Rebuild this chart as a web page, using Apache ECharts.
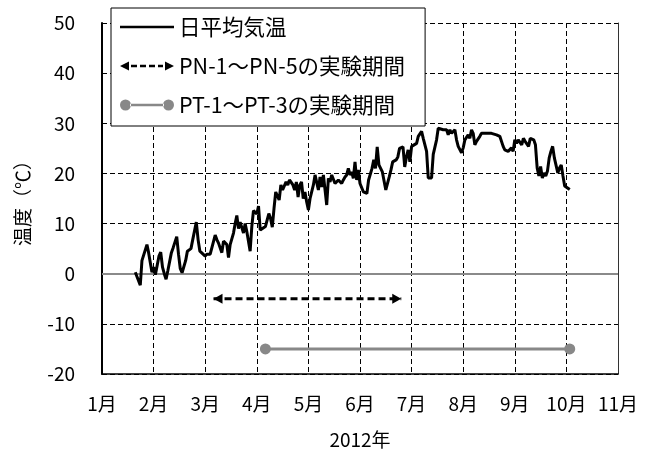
<!DOCTYPE html>
<html>
<head>
<meta charset="utf-8">
<script src="https://cdn.jsdelivr.net/npm/echarts@6/dist/echarts.min.js"></script>
<style>
html,body{margin:0;padding:0;background:#fff;}
#chart{width:652px;height:455px;}
</style>
</head>
<body>
<div id="chart"></div>
<script>
// ---- data ----
const year = 2012;
const monthLabels = ['1月','2月','3月','4月','5月','6月','7月','8月','9月','10月','11月'];
const yTicks = [-20, -10, 0, 10, 20, 30, 40, 50];
const tempDates = ['1/21','1/22','1/24','1/25','1/28','1/29','1/31','2/1','2/2','2/4','2/5','2/6','2/7','2/8','2/9','2/11','2/12','2/14','2/15','2/16','2/17','2/19','2/20','2/21','2/22','2/23','2/25','2/26','2/27','2/28','3/1','3/2','3/4','3/5','3/7','3/8','3/9','3/11','3/12','3/14','3/15','3/16','3/18','3/19','3/20','3/21','3/22','3/24','3/25','3/26','3/27','3/28','3/29','3/30','4/1','4/2','4/3','4/4','4/6','4/8','4/9','4/10','4/11','4/12','4/14','4/15','4/16','4/18','4/19','4/20','4/22','4/23','4/24','4/25','4/26','4/27','4/28','4/29','4/30','5/1','5/2','5/4','5/5','5/7','5/8','5/9','5/10','5/12','5/13','5/14','5/15','5/17','5/18','5/19','5/21','5/22','5/23','5/24','5/25','5/26','5/27','5/28','5/29','5/30','5/31','6/1','6/2','6/3','6/4','6/5','6/6','6/8','6/9','6/10','6/11','6/12','6/13','6/14','6/16','6/17','6/18','6/19','6/20','6/21','6/22','6/23','6/24','6/26','6/27','6/28','6/29','6/30','7/1','7/2','7/4','7/5','7/7','7/8','7/10','7/11','7/12','7/13','7/14','7/16','7/17','7/18','7/20','7/21','7/22','7/23','7/24','7/25','7/27','7/28','7/29','7/31','8/1','8/2','8/4','8/5','8/6','8/7','8/8','8/9','8/11','8/12','8/13','8/15','8/16','8/18','8/19','8/21','8/22','8/23','8/25','8/26','8/27','8/28','8/30','8/31','9/1','9/2','9/3','9/5','9/6','9/7','9/8','9/9','9/10','9/12','9/13','9/14','9/15','9/16','9/17','9/18','9/19','9/20','9/21','9/22','9/23','9/24','9/26','9/27','9/28','9/29','9/30','10/1','10/3'];
const tempValues = [0.3,0.6,-2.3,2.6,5.8,4.2,0.3,1.3,-0.2,3.5,4.3,1.3,0,-1.1,0.6,4.2,5.2,7.4,3.9,1.0,0.2,2.6,4.5,4.5,5.0,6.8,10.3,6.8,4.5,4.2,3.5,3.9,3.9,4.2,7.7,6.8,6.1,4.2,6.5,5.8,3.2,5.8,8.1,10.0,11.6,9.0,10.3,8.1,10.0,8.4,8.7,4.5,9.4,12.6,11.9,13.5,8.7,9.0,9.4,12.0,11.0,9.3,13.0,16.3,14.7,17.7,16.7,18.3,17.7,18.7,17.7,16.7,18.3,15.3,17.7,18.3,15.0,16.3,14.3,12.7,15.0,17.7,19.7,16.7,19.3,17.3,19.7,13.7,19.0,18.3,19.7,18.0,18.3,18.7,18.0,18.7,19.3,19.7,21.0,19.7,20.3,19.0,22.3,18.7,20.7,18.0,18.3,16.3,16.0,16.0,18.7,21.0,22.7,21.0,25.3,21.7,21.0,20.3,16.7,17.0,19.3,20.7,22.3,22.0,22.7,23.3,25.0,25.3,21.3,23.3,24.7,22.3,25.4,25.7,26.0,27.4,28.4,27.0,24.4,19.1,18.8,19.1,23.8,26.7,29.0,29.3,28.7,28.4,28.7,27.7,28.7,28.0,28.7,26.7,25.4,24.1,25.1,26.7,27.7,27.0,28.7,28.0,25.7,26.4,27.4,28.0,27.7,28.0,28.0,28.0,28.0,27.7,28.0,27.4,25.4,24.7,24.7,24.4,25.1,24.4,26.7,26.0,26.7,25.7,27.0,26.4,26.7,25.4,27.0,26.7,25.7,21.1,19.5,21.4,19.1,20.1,19.5,20.5,23.1,24.4,25.4,23.1,20.1,21.1,21.7,19.5,17.5,17.2,16.8];
const pnPeriod = ['3/6', '6/25'];
const pnLevel = -5;
const ptPeriod = ['4/6', '10/3'];
const ptLevel = -15;
const seriesNames = ['日平均気温', 'PN-1～PN-5の実験期間', 'PT-1～PT-3の実験期間'];

// ---- helpers ----
function monthPos(md) {
  const [m, d] = md.split('/').map(Number);
  const dim = new Date(year, m, 0).getDate();
  return (m - 1) + (d - 1) / dim;
}
const FONT = '"Noto Sans CJK JP", "Noto Sans", sans-serif';
const tempData = tempDates.map((d, i) => [monthPos(d), tempValues[i]]);

const iconLine = 'path://M0 5 L54 5 L54 7.6 L0 7.6 Z';
const iconArrow = 'path://M0 6 L9 1.5 L9 10.5 Z M54 6 L45 1.5 L45 10.5 Z M11 4.7 L17 4.7 L17 7.3 L11 7.3 Z M20 4.7 L26 4.7 L26 7.3 L20 7.3 Z M29 4.7 L35 4.7 L35 7.3 L29 7.3 Z M38 4.7 L43 4.7 L43 7.3 L38 7.3 Z';
const iconDots = 'path://M0 6 A5.5 5.5 0 1 0 11 6 A5.5 5.5 0 1 0 0 6 Z M43 6 A5.5 5.5 0 1 0 54 6 A5.5 5.5 0 1 0 43 6 Z M10 4.8 L44 4.8 L44 7.2 L10 7.2 Z';

const chart = echarts.init(document.getElementById('chart'), null, {renderer: 'canvas'});
const option = {
  animation: false,
  backgroundColor: '#fff',
  textStyle: {fontFamily: FONT},
  grid: {left: 102, right: 34, top: 23, bottom: 81, containLabel: false},
  legend: {
    left: 111, top: 8, orient: 'vertical',
    backgroundColor: '#fff', borderColor: '#000', borderWidth: 1,
    padding: [8, 20, 10, 9],
    itemGap: 17, itemWidth: 54, itemHeight: 12,
    symbolKeepAspect: true,
    selectedMode: false,
    itemStyle: {borderWidth: 0},
    textStyle: {fontSize: 21.5, color: '#000', fontFamily: FONT, lineHeight: 22, padding: [0, 0, 0, 0]},
    data: [
      {name: seriesNames[0], icon: iconLine},
      {name: seriesNames[1], icon: iconArrow},
      {name: seriesNames[2], icon: iconDots}
    ]
  },
  xAxis: {
    type: 'value', min: 0, max: monthLabels.length - 1, interval: 1,
    axisLine: {show: true, onZero: false, lineStyle: {color: '#000', width: 1.5}},
    axisTick: {show: false},
    axisLabel: {
      fontSize: 19, color: '#000', margin: 20, fontFamily: FONT,
      showMinLabel: true, showMaxLabel: true,
      formatter: v => monthLabels[Math.round(v)]
    },
    splitLine: {show: true, lineStyle: {color: '#000', width: 1, type: [5, 3]}},
    name: year + '年', nameLocation: 'middle', nameGap: 56,
    nameTextStyle: {fontSize: 19, color: '#000', fontFamily: FONT}
  },
  yAxis: [{
    type: 'value', min: yTicks[0], max: yTicks[yTicks.length - 1], interval: 10,
    axisLine: {show: true, onZero: false, lineStyle: {color: '#000', width: 2}},
    axisTick: {show: false},
    axisLabel: {fontSize: 19, color: '#000', margin: 27, fontFamily: FONT},
    splitLine: {show: true, lineStyle: {color: '#000', width: 1, type: [5, 3]}},
    name: '温度（℃）', nameLocation: 'middle', nameGap: 70,
    nameTextStyle: {fontSize: 19, color: '#000', fontFamily: FONT}
  }, {
    type: 'value', position: 'right', min: yTicks[0], max: yTicks[yTicks.length - 1], interval: 10,
    axisLine: {show: true, onZero: false, lineStyle: {color: '#333', width: 1}},
    axisTick: {show: false}, axisLabel: {show: false}, splitLine: {show: false}
  }],
  series: [{
    name: seriesNames[0], type: 'line', data: tempData,
    showSymbol: false, symbol: 'none',
    lineStyle: {color: '#000', width: 3}, itemStyle: {color: '#000'},
    z: 4,
    markLine: {
      silent: true, symbol: 'none', z: 1, label: {show: false},
      lineStyle: {color: '#8a8a8a', width: 2, type: 'solid'},
      data: [{yAxis: 0}]
    }
  }, {
    name: seriesNames[1], type: 'line',
    data: [
      {value: [monthPos(pnPeriod[0]), pnLevel], symbolRotate: 90, symbolOffset: [4.5, 0]},
      {value: [monthPos(pnPeriod[1]), pnLevel], symbolRotate: -90, symbolOffset: [-4.5, 0]}
    ],
    symbol: 'triangle', symbolSize: [10, 9], showSymbol: true,
    lineStyle: {color: '#000', width: 3, type: [7, 4]}, itemStyle: {color: '#000'},
    z: 3
  }, {
    name: seriesNames[2], type: 'line',
    data: ptPeriod.map(d => [monthPos(d), ptLevel]),
    symbol: 'circle', symbolSize: 11,
    lineStyle: {color: '#888', width: 3}, itemStyle: {color: '#888'},
    z: 3
  }]
};
chart.setOption(option);
</script>
</body>
</html>
